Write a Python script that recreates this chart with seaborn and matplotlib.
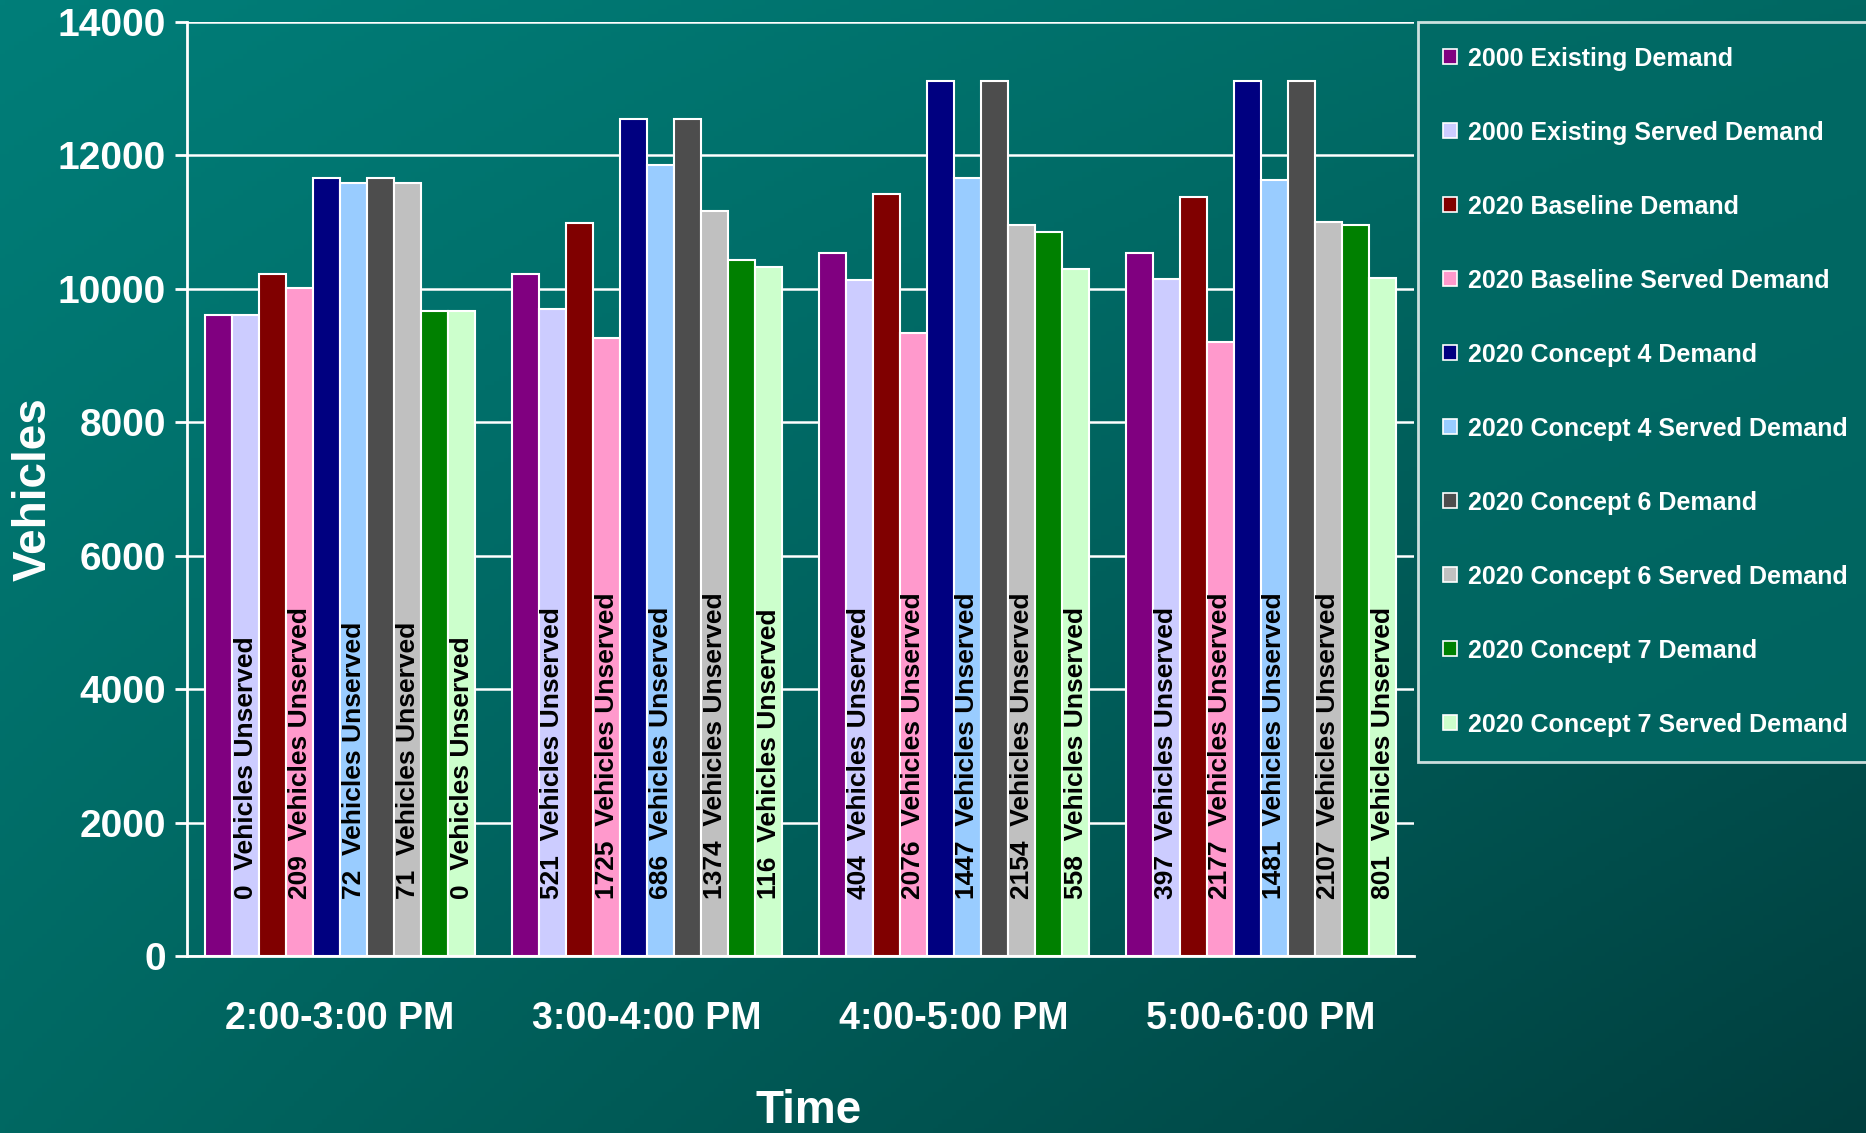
import numpy as np
import pandas as pd
import matplotlib
matplotlib.use("Agg")
import matplotlib.pyplot as plt
import seaborn as sns

# time periods on the x axis
periods = ["2:00-3:00 PM", "3:00-4:00 PM", "4:00-5:00 PM", "5:00-6:00 PM"]

series = [
    "2000 Existing Demand", "2000 Existing Served Demand",
    "2020 Baseline Demand", "2020 Baseline Served Demand",
    "2020 Concept 4 Demand", "2020 Concept 4 Served Demand",
    "2020 Concept 6 Demand", "2020 Concept 6 Served Demand",
    "2020 Concept 7 Demand", "2020 Concept 7 Served Demand",
]

# values (vehicles), one list per series
existing_demand = [9600, 10220, 10540, 10540]
existing_served = [9600, 9699, 10136, 10143]
baseline_demand = [10220, 10986, 11414, 11373]
baseline_served = [10011, 9261, 9338, 9196]
concept4_demand = [11650, 12538, 13108, 13108]
concept4_served = [11578, 11852, 11661, 11627]
concept6_demand = [11650, 12538, 13108, 13108]
concept6_served = [11579, 11164, 10954, 11001]
concept7_demand = [9670, 10433, 10847, 10953]
concept7_served = [9670, 10317, 10289, 10152]

# unserved vehicles, printed on the served bars
existing_unserved = [0, 521, 404, 397]
baseline_unserved = [209, 1725, 2076, 2177]
concept4_unserved = [72, 686, 1447, 1481]
concept6_unserved = [71, 1374, 2154, 2107]
concept7_unserved = [0, 116, 558, 801]

colors = ["#800080", "#CCCCFF", "#800000", "#FF99CC", "#000080",
          "#99CCFF", "#4D4D4D", "#C0C0C0", "#008000", "#CCFFCC"]

values = [existing_demand, existing_served, baseline_demand, baseline_served,
          concept4_demand, concept4_served, concept6_demand, concept6_served,
          concept7_demand, concept7_served]
unserved = [existing_unserved, baseline_unserved, concept4_unserved,
            concept6_unserved, concept7_unserved]

rows = []
for s, vals in zip(series, values):
    for p, v in zip(periods, vals):
        rows.append({"period": p, "series": s, "vehicles": v})
df = pd.DataFrame(rows)

sns.set_style("white")
plt.rcParams["font.family"] = ["Liberation Sans", "DejaVu Sans"]
plt.rcParams["font.weight"] = "bold"

fig = plt.figure(figsize=(18.66, 11.33), dpi=100)

# teal gradient background
bg = fig.add_axes([0, 0, 1, 1], zorder=-10)
gx, gy = np.meshgrid(np.linspace(0, 1, 400), np.linspace(0, 1, 250))
tl, tr, bl, br = (np.array(c) / 255 for c in
                  [(0, 126, 121), (0, 104, 98), (0, 104, 98), (0, 62, 62)])
grad = ((1 - gx)[..., None] * (1 - gy)[..., None] * tl + gx[..., None] * (1 - gy)[..., None] * tr
        + (1 - gx)[..., None] * gy[..., None] * bl + gx[..., None] * gy[..., None] * br)
bg.imshow(grad, aspect="auto", extent=[0, 1, 0, 1], origin="upper")
bg.axis("off")

ax = fig.add_axes([0.100, 0.156, 0.658, 0.825])
ax.patch.set_alpha(0)

sns.barplot(data=df, x="period", y="vehicles", hue="series", palette=colors,
            width=0.88, saturation=1, edgecolor="white", linewidth=1.5,
            ax=ax, zorder=3)

# unserved labels on the served bars
for i, unv in enumerate(unserved):
    cont = ax.containers[2 * i + 1]
    for bar, n in zip(cont.patches, unv):
        xc = bar.get_x() + bar.get_width() / 2
        ax.text(xc, 860, f"{n}  Vehicles Unserved", rotation=90,
                ha="center", va="bottom", fontsize=19, fontweight="bold",
                color="black", zorder=5)

ax.set_ylim(0, 14000)
ax.set_yticks(range(0, 14001, 2000))
ax.set_xlim(-0.5, 3.5)
ax.yaxis.grid(True, color="white", linewidth=1.8, zorder=0)
ax.set_axisbelow(True)
for side in ["top", "right"]:
    ax.spines[side].set_visible(False)
for side in ["left", "bottom"]:
    ax.spines[side].set_color("white")
    ax.spines[side].set_linewidth(2)

ax.tick_params(axis="y", colors="white", labelsize=28, length=9, width=2,
               direction="out", left=True, pad=6)
ax.tick_params(axis="x", which="major", colors="white", labelsize=27,
               length=0, pad=32)
ax.set_xticks([-0.5, 0.5, 1.5, 2.5, 3.5], minor=True)
ax.tick_params(axis="x", which="minor", length=9, width=2, color="white",
               direction="out")
for lab in ax.get_xticklabels() + ax.get_yticklabels():
    lab.set_fontweight("bold")

ax.set_ylabel("Vehicles", fontsize=33, fontweight="bold", color="white")
ax.yaxis.set_label_coords(-0.107, 0.5)
ax.set_xlabel("Time", fontsize=33, fontweight="bold", color="white")
ax.xaxis.set_label_coords(0.507, -0.142)

ax.get_legend().remove()
handles = [plt.Rectangle((0, 0), 1, 1, facecolor=c, edgecolor="white", linewidth=1.2)
           for c in colors]
leg = fig.legend(handles, series, loc="upper left", bbox_to_anchor=(0.760, 0.981),
                 borderaxespad=0, frameon=True, fontsize=18, labelspacing=2.0,
                 handlelength=0.55, handleheight=0.55, handletextpad=0.45,
                 borderpad=1.0, fancybox=False)
leg.get_frame().set_facecolor("#006A65")
leg.get_frame().set_edgecolor("white")
leg.get_frame().set_linewidth(2)
for t in leg.get_texts():
    t.set_color("white")
    t.set_fontweight("bold")

fig.savefig("out.png", dpi=100)
